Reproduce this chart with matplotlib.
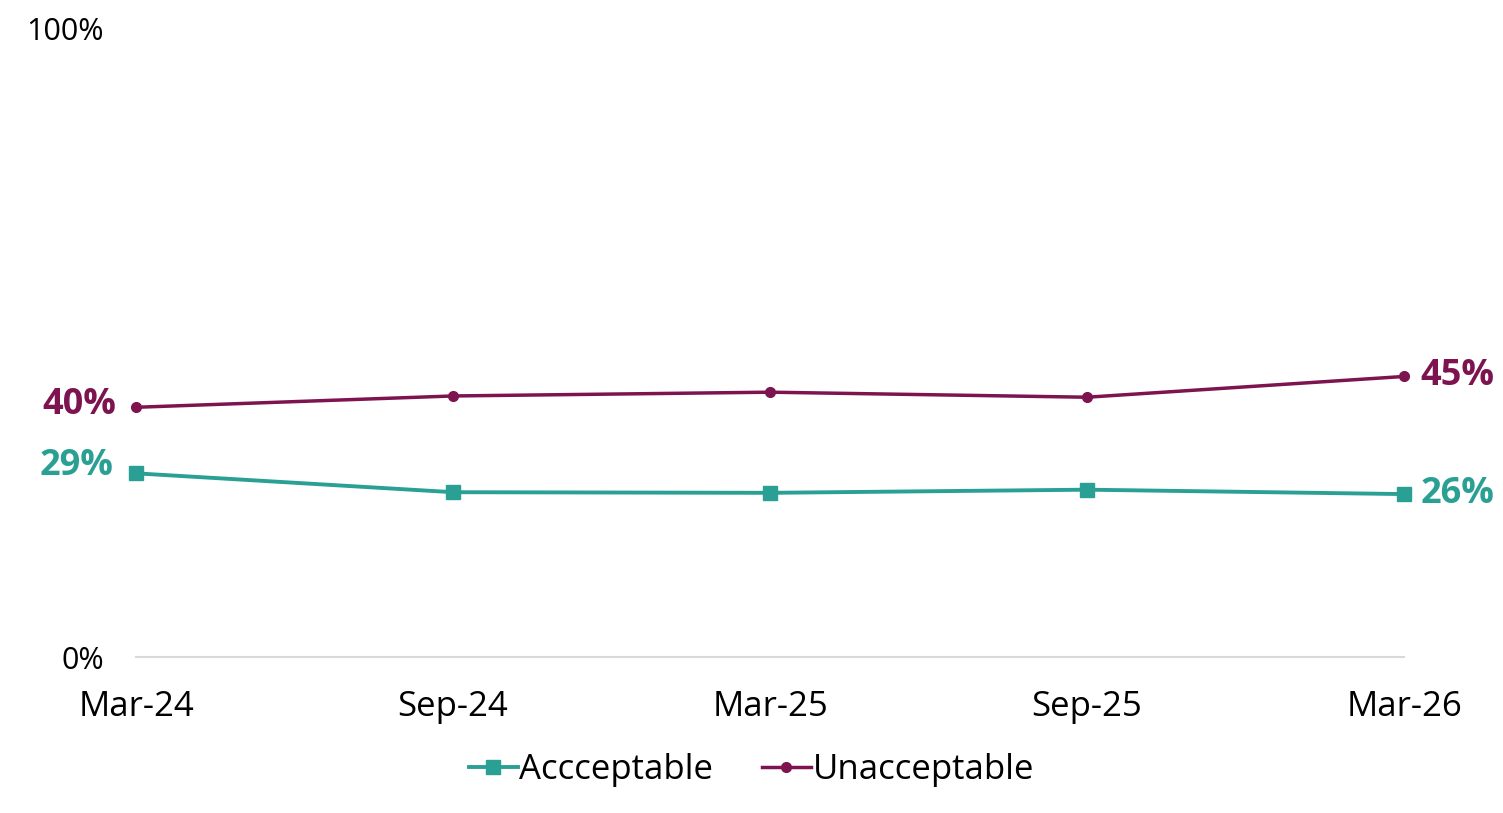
import matplotlib
matplotlib.use('Agg')
import matplotlib.pyplot as plt

plt.rcParams['font.family'] = ['Open Sans', 'DejaVu Sans']

periods = ['Mar-24', 'Sep-24', 'Mar-25', 'Sep-25', 'Mar-26']
acceptable = [29.2, 26.2, 26.1, 26.6, 25.9]
unacceptable = [39.7, 41.5, 42.1, 41.3, 44.6]

teal = '#2AA095'
purple = '#7D1450'

fig = plt.figure(figsize=(15.03, 8.13), dpi=100)
ax = fig.add_axes([136 / 1503, 156 / 813, 1268 / 1503, 629 / 813])

x = list(range(len(periods)))
ax.plot(x, acceptable, color=teal, lw=2.8, marker='s', ms=10, label='Accceptable', clip_on=False)
ax.plot(x, unacceptable, color=purple, lw=2.5, marker='o', ms=7, label='Unacceptable', clip_on=False)

ax.set_xlim(0, 4)
ax.set_ylim(0, 100)
ax.set_yticks([0, 100])
ax.set_yticklabels(['0%', '100%'], fontsize=22)
ax.set_xticks(x)
ax.set_xticklabels(periods, fontsize=25)
ax.tick_params(axis='y', length=0, pad=23)
ax.tick_params(axis='x', length=0, pad=24)
for s in ['top', 'right', 'left']:
    ax.spines[s].set_visible(False)
ax.spines['bottom'].set_color('#D9D9D9')
ax.spines['bottom'].set_linewidth(1.5)

# end labels
lab = dict(textcoords='offset points', va='center', fontsize=26, fontweight='bold')
ax.annotate(f'{unacceptable[0]:.0f}%', (0, unacceptable[0]), xytext=(-14, 2), ha='right', color=purple, **lab)
ax.annotate(f'{acceptable[0]:.0f}%', (0, acceptable[0]), xytext=(-16, 5), ha='right', color=teal, **lab)
ax.annotate(f'{unacceptable[-1]:.0f}%', (4, unacceptable[-1]), xytext=(12, 0), ha='left', color=purple, **lab)
ax.annotate(f'{acceptable[-1]:.0f}%', (4, acceptable[-1]), xytext=(12, 0), ha='left', color=teal, **lab)

fig.legend(loc='center', bbox_to_anchor=(0.5, 1 - 770 / 813), ncol=2, frameon=False,
           fontsize=25, handlelength=1.4, handletextpad=0.05, columnspacing=1.4)

fig.savefig('out.png', dpi=100)
